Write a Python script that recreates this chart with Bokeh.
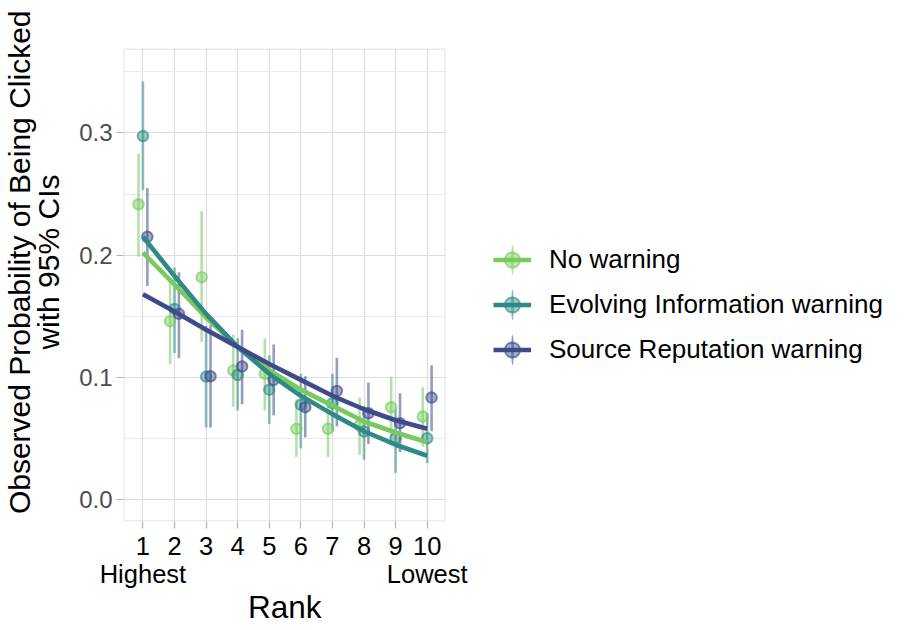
import math
from bokeh.plotting import figure
from bokeh.models import Range1d, FixedTicker, Legend, LegendItem, Title, BoxAnnotation
from bokeh.embed import file_html
from bokeh.resources import INLINE

# ---------------- data ----------------
ranks = [1, 2, 3, 4, 5, 6, 7, 8, 9, 10]
x_tick_labels = ["1\nHighest", "2", "3", "4", "5", "6", "7", "8", "9", "10\nLowest"]
y_ticks = [0.0, 0.1, 0.2, 0.3]
y_tick_labels = ["0.0", "0.1", "0.2", "0.3"]
y_minor_ticks = [0.05, 0.15, 0.25, 0.35]

series_names = ["No warning", "Evolving Information warning", "Source Reputation warning"]

no_warning_p = [0.2416, 0.146, 0.182, 0.1056, 0.103, 0.058, 0.058, 0.0607, 0.0757, 0.068]
no_warning_lo = [0.199, 0.111, 0.129, 0.076, 0.073, 0.035, 0.035, 0.0367, 0.0517, 0.0435]
no_warning_hi = [0.283, 0.180, 0.236, 0.135, 0.132, 0.082, 0.080, 0.0835, 0.1007, 0.092]
no_warning_fit = [0.202, 0.176, 0.149, 0.125, 0.106, 0.090, 0.077, 0.064, 0.055, 0.047]

evolving_p = [0.2974, 0.156, 0.1007, 0.102, 0.090, 0.0776, 0.079, 0.0558, 0.0503, 0.0503]
evolving_lo = [0.253, 0.120, 0.059, 0.073, 0.062, 0.042, 0.056, 0.0327, 0.022, 0.030]
evolving_hi = [0.342, 0.190, 0.142, 0.132, 0.118, 0.103, 0.103, 0.0767, 0.0735, 0.071]
evolving_fit = [0.215, 0.183, 0.152, 0.125, 0.103, 0.085, 0.070, 0.056, 0.045, 0.036]

source_p = [0.215, 0.152, 0.101, 0.109, 0.098, 0.0757, 0.089, 0.0707, 0.0626, 0.0835]
source_lo = [0.1747, 0.116, 0.059, 0.078, 0.069, 0.051, 0.060, 0.0457, 0.039, 0.056]
source_hi = [0.255, 0.186, 0.143, 0.139, 0.127, 0.101, 0.116, 0.0958, 0.087, 0.110]
source_fit = [0.168, 0.154, 0.139, 0.125, 0.111, 0.098, 0.085, 0.074, 0.065, 0.058]

y_title_line1 = "Observed Probability of Being Clicked"
y_title_line2 = "with 95% CIs"
x_title = "Rank"

# ---------------- styles / layout ----------------
colors = ["#78C95E", "#2F8A85", "#3E4A89"]
dodge = [-0.14, 0.0, 0.14]
FONT = "Liberation Sans"
W, H = 916, 630
PANEL_L, PANEL_R, PANEL_T, PANEL_B = 123, 445, 48, 521   # panel box in px
X_LO, X_HI = 0.385, 10.58        # x extent of the panel box
Y_LO, Y_HI = -0.0178, 0.369      # y extent of the panel box
# frame runs to the right edge so the legend can sit right of the panel
px_per_x = (PANEL_R - PANEL_L) / (X_HI - X_LO)
X_END = X_LO + (W - PANEL_L) / px_per_x

series = [
    (no_warning_p, no_warning_lo, no_warning_hi, no_warning_fit),
    (evolving_p, evolving_lo, evolving_hi, evolving_fit),
    (source_p, source_lo, source_hi, source_fit),
]

p = figure(
    width=W, height=H,
    output_backend="svg", toolbar_location=None,
    x_range=Range1d(X_LO, X_END), y_range=Range1d(Y_LO, Y_HI),
    min_border_left=PANEL_L, min_border_right=0, min_border_top=PANEL_T,
    min_border_bottom=H - PANEL_B,
    background_fill_color="white", border_fill_color="white",
    outline_line_color=None,
)

# axes
p.xaxis.ticker = FixedTicker(ticks=ranks, minor_ticks=[])
p.xaxis.major_label_overrides = {r: lab for r, lab in zip(ranks, x_tick_labels)}
p.yaxis.ticker = FixedTicker(ticks=y_ticks, minor_ticks=y_minor_ticks)
p.yaxis.major_label_overrides = {t: lab for t, lab in zip(y_ticks, y_tick_labels)}

for ax in (p.xaxis[0], p.yaxis[0]):
    ax.axis_line_color = None
    ax.major_tick_line_color = "#B3B3B3"
    ax.major_tick_line_width = 1.2
    ax.major_tick_in = 0
    ax.major_tick_out = 7
    ax.minor_tick_line_color = None
    ax.major_label_text_font = FONT

p.xaxis.major_label_text_font_size = "25.5px"
p.xaxis.major_label_text_color = "black"
p.xaxis.major_label_text_line_height = 1.0
p.xaxis.major_label_standoff = 3

p.yaxis.major_label_text_font_size = "24px"
p.yaxis.major_label_text_color = "#4D4D4D"
p.yaxis.major_label_standoff = 4

# grid
p.xgrid.grid_line_color = "#DEDEDE"
p.xgrid.grid_line_width = 1.2
p.ygrid.grid_line_color = "#DEDEDE"
p.ygrid.grid_line_width = 1.2
p.ygrid.minor_grid_line_color = "#E4E4E4"
p.ygrid.minor_grid_line_width = 0.8

# panel border and mask right of the panel
p.add_layout(BoxAnnotation(left=X_LO, right=X_HI, bottom=Y_LO, top=Y_HI,
                           fill_alpha=0, line_color="#B3B3B3", line_width=2.4,
                           level="underlay"))
p.add_layout(BoxAnnotation(left=X_HI, right=X_END + 10, bottom=-1, top=1,
                           fill_color="white", fill_alpha=1, line_color=None,
                           level="underlay"))

# error bars and points
pt_renderers = []
for (pv, lo, hi, fit), c, d in zip(series, colors, dodge):
    xs = [r + d for r in ranks]
    p.segment(x0=xs, y0=lo, x1=xs, y1=hi, line_color=c, line_width=2.6, line_alpha=0.55)
for (pv, lo, hi, fit), c, d in zip(series, colors, dodge):
    xs = [r + d for r in ranks]
    pt_renderers.append(
        p.scatter(x=xs, y=pv, size=10.5, marker="circle", fill_color=c, fill_alpha=0.45,
                  line_color=c, line_alpha=0.65, line_width=2.0)
    )

# fitted curves
line_renderers = []
for (pv, lo, hi, fit), c in zip(series, colors):
    line_renderers.append(p.line(x=ranks, y=fit, line_color=c, line_width=4.6))

# legend-only vertical key (ellipse keeps its aspect in the legend)
key_renderers = []
for c in colors:
    key_renderers.append(
        p.ellipse(x=[-50], y=[-50], width=[9], height=[100], width_units="screen",
                  height_units="screen", fill_color=c, fill_alpha=0.55, line_color=None)
    )

items = [
    LegendItem(label=name, renderers=[kr, pr, lr])
    for name, kr, pr, lr in zip(series_names, key_renderers, pt_renderers, line_renderers)
]
legend = Legend(
    items=items, location=(370, 149),
    glyph_width=38, glyph_height=45, spacing=0, padding=0, margin=0,
    label_standoff=18, label_text_font=FONT, label_text_font_size="26px",
    label_text_color="black", label_text_baseline="middle",
    border_line_color=None, background_fill_alpha=0,
)
p.add_layout(legend, "center")

# x axis title, centred under the panel
p.add_layout(Title(text=x_title, align="left", offset=124.5, vertical_align="top",
                   standoff=-4, text_font=FONT, text_font_size="31.5px",
                   text_font_style="normal", text_color="black"), "below")

# y axis title, two lines, centred around y = 262 px
t2 = Title(text=y_title_line2, align="right", offset=126, vertical_align="bottom",
           standoff=24, text_font=FONT, text_font_size="30px", text_font_style="normal",
           text_color="black")
p.add_layout(t2, "left")
t1 = Title(text=y_title_line1, align="right", offset=-38, vertical_align="bottom",
           standoff=-36, text_font=FONT, text_font_size="30px", text_font_style="normal",
           text_color="black")
p.add_layout(t1, "left")

open("out.html", "w").write(file_html(p, INLINE))
